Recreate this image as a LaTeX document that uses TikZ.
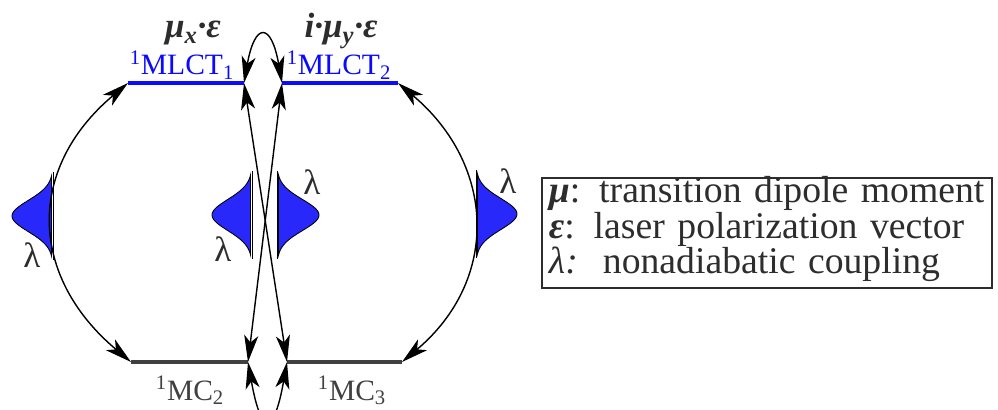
\documentclass[tikz,border=0pt]{standalone}
\usepackage{fontspec}
\setmainfont{Liberation Serif}
\usetikzlibrary{arrows.meta}
\definecolor{lvlblue}{RGB}{10,10,255}
\definecolor{blobblue}{RGB}{40,40,250}
\definecolor{mcgray}{RGB}{64,64,64}
\definecolor{txtgray}{RGB}{45,45,45}
\tikzset{mlct/.style = {draw=lvlblue, line width=2.3pt},
  mc/.style = {draw=mcgray, line width=2.3pt},
  coup/.style = {<->, line width=1pt},
  blob/.style = {fill=blobblue, draw=black, line width=0.6pt},
  blobbase/.style = {draw=black, line width=0.7pt},
  coef/.style = {font=\fontsize{25}{25}\selectfont\bfseries\itshape, text=txtgray, anchor=base},
  lvl/.style = {font=\fontsize{21}{21}\selectfont, anchor=base},
  lam/.style = {font=\fontsize{25}{25}\selectfont, text=txtgray},
  keybox/.style = {draw=txtgray, line width=1pt, minimum width=11.25cm, minimum height=2.75cm},
  keytext/.style = {text=txtgray, align=left, text width=11.05cm, inner sep=0pt,
    font=\fontsize{26.8}{25.4}\selectfont}}
\newcommand{\gblob}[3]{%
  \filldraw[blob] plot[domain=-40:40, samples=50] ({#1+(#3)/exp((\x/22)^2)}, {#2+\x}) -- cycle;
  \draw[blobbase] (#1,#2-44) -- (#1,#2+44);}

\begin{document}
\begin{tikzpicture}[x=0.025cm, y=0.025cm, >={Stealth[length=19pt,width=10pt,inset=5pt]}]
  \clip (0,0) rectangle (998,409);
  \coordinate (m1a) at (128,326);
  \coordinate (m1b) at (244,326);
  \coordinate (m2a) at (282,326);
  \coordinate (m2b) at (398,326);
  \coordinate (c2a) at (131,47);
  \coordinate (c2b) at (248,47);
  \coordinate (c3a) at (287,47);
  \coordinate (c3b) at (402,47);
  \draw[mlct] (m1a) -- (m1b);
  \draw[mlct] (m2a) -- (m2b);
  \draw[mc] (c2a) -- (c2b);
  \draw[mc] (c3a) -- (c3b);
  \gblob{53}{193}{-41}
  \gblob{252}{194}{-40}
  \gblob{277}{194}{42}
  \gblob{476}{195}{41}
  \draw[coup] (m1a) to[out=220, in=140, looseness=1.22] (c2a);
  \draw[coup] (m2b) to[out=320, in=40, looseness=1.17] (c3b);
  \draw[coup] (m1b) -- (c3a);
  \draw[coup] (m2a) -- (c2b);
  \draw[coup] (m1b) .. controls +(80:62) and +(100:62) .. (m2a);
  \draw[coup] (c2b) .. controls +(-80:75) and +(-100:75) .. (c3a);
  \node[coef] (mux) at (193,371) {μ\textsubscript{x}·ε};
  \node[coef] (muy) at (341,371) {i·μ\textsubscript{y}·ε};
  \node[lvl, text=lvlblue] (t1) at (182,334) {\textsuperscript{1}MLCT\textsubscript{1}};
  \node[lvl, text=lvlblue] (t2) at (339,334) {\textsuperscript{1}MLCT\textsubscript{2}};
  \node[lvl, text=mcgray] (t3) at (190,9) {\textsuperscript{1}MC\textsubscript{2}};
  \node[lvl, text=mcgray] (t4) at (352,9) {\textsuperscript{1}MC\textsubscript{3}};
  \node[lam] (lamA) at (32,154) {λ};
  \node[lam] (lamB) at (223,160) {λ};
  \node[lam] (lamC) at (312,227) {λ};
  \node[lam] (lamD) at (508,228) {λ};
  \node[keybox] (frame) at (767,176) {};
  \node[keytext] (legend) at (770,180) {\textbf{\textit{μ}}: transition dipole moment\\
    \textbf{\textit{ε}}: laser polarization vector\\
    \textit{λ:}\ \ nonadiabatic coupling};
\end{tikzpicture}
\end{document}
